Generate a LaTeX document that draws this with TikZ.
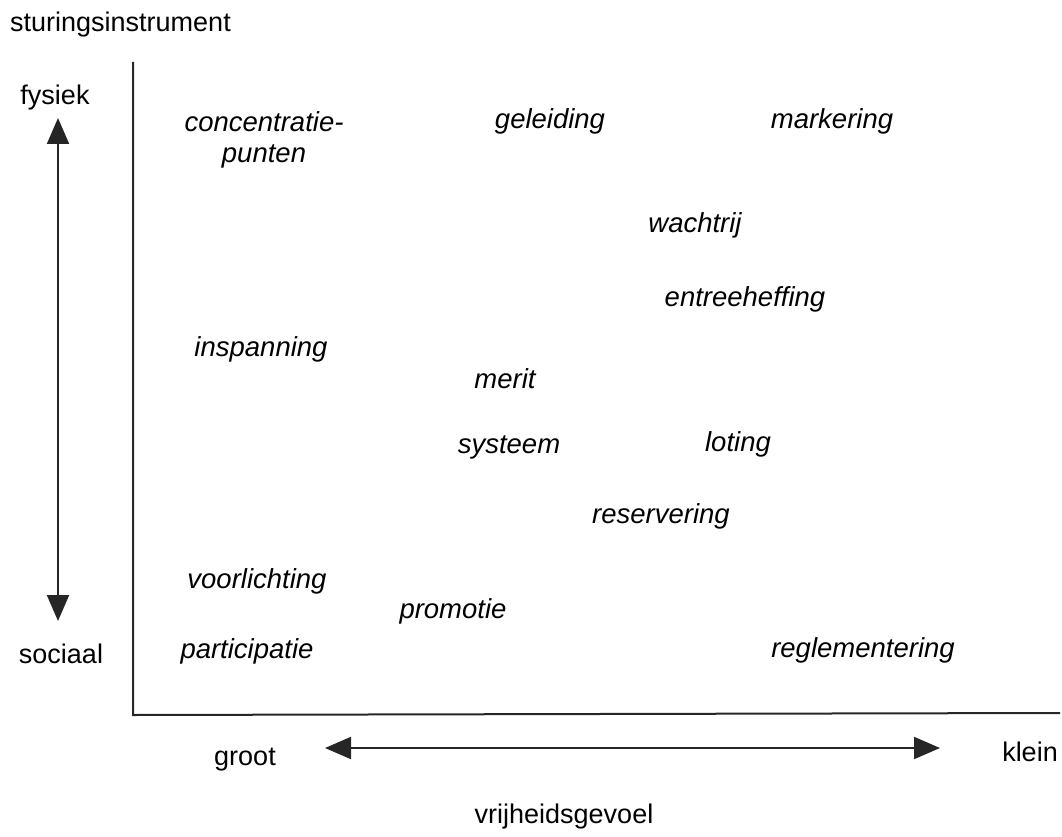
\documentclass[tikz,border=0pt]{standalone}
\usepackage{fontspec}
\setmainfont{Liberation Sans}
\usetikzlibrary{arrows.meta}
\begin{document}
\begin{tikzpicture}[x=1pt,y=-1pt,
  lbl/.style={font=\fontsize{27}{31}\selectfont, inner sep=0pt},
  item/.style={font=\fontsize{27.5}{31}\selectfont\itshape, inner sep=0pt, align=center},
  axis/.style={line width=2pt, color=black!85},
  dbl/.style={line width=2pt, color=black!85, {Triangle[width=22pt,length=26pt]}-{Triangle[width=22pt,length=26pt]}}]
\useasboundingbox (0,0) rectangle (1062,837);
% axes
\coordinate (top) at (133,62);
\coordinate (origin) at (133,715);
\coordinate (right) at (1060,713);
\draw[axis] (top) -- (origin) -- (right);
% labels
\node[lbl, anchor=west] (sturing) at (10,25) {sturingsinstrument};
\node[lbl] (fysiek) at (55,98) {fysiek};
\node[lbl] (sociaal) at (61,654) {sociaal};
\node[lbl] (groot) at (245,760) {groot};
\node[lbl] (klein) at (1030,752) {klein};
\node[lbl] (vrij) at (564,817) {vrijheidsgevoel};
% arrows
\coordinate (vt) at (58,118);
\coordinate (vb) at (58,621);
\draw[dbl] (vt) -- (vb);
\coordinate (hl) at (325,748);
\coordinate (hr) at (940,748);
\draw[dbl] (hl) -- (hr);
% items
\node[item] (conc) at (264,140) {concentratie-\\punten};
\node[item] (gel) at (550,121) {geleiding};
\node[item] (mark) at (832,121) {markering};
\node[item] (wacht) at (695,225) {wachtrij};
\node[item] (entree) at (745,299) {entreeheffing};
\node[item] (insp) at (261,349) {inspanning};
\node[item] (merit) at (505,379) {merit};
\node[item] (sys) at (509,447) {systeem};
\node[item] (lot) at (738,444) {loting};
\node[item] (res) at (661,516) {reservering};
\node[item] (voor) at (257,581) {voorlichting};
\node[item] (prom) at (453,611) {promotie};
\node[item] (part) at (247,651) {participatie};
\node[item] (regl) at (863,650) {reglementering};
\end{tikzpicture}
\end{document}
